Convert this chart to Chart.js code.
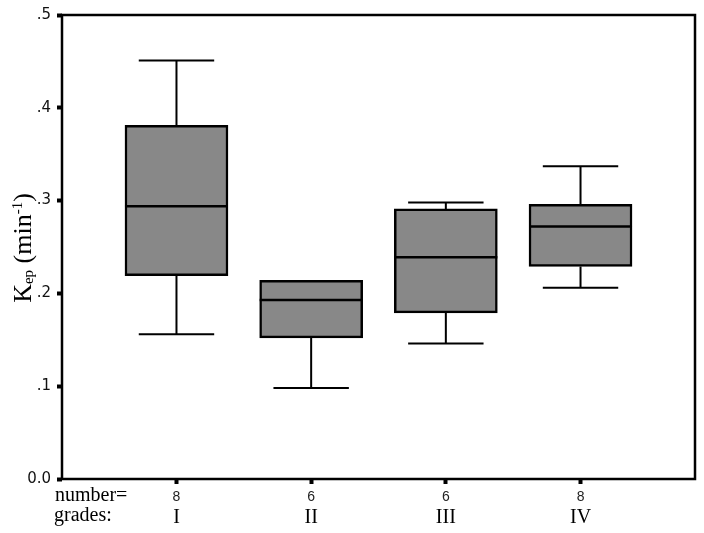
<!DOCTYPE html>
<html>
<head>
<meta charset="utf-8">
<script src="https://cdn.jsdelivr.net/npm/chart.js@4/dist/chart.umd.min.js"></script>
<style>
  html, body { margin: 0; padding: 0; background: #fff; }
  #wrap { width: 704px; height: 533px; }
</style>
</head>
<body>
<div id="wrap"><canvas id="c" width="704" height="533"></canvas></div>
<script>
// ---- data ----
const grades = ['I', 'II', 'III', 'IV'];
const counts = [8, 6, 6, 8];
const whiskerLow = [0.156, 0.098, 0.146, 0.206];
const q1 = [0.219, 0.152, 0.179, 0.229];
const median = [0.294, 0.193, 0.239, 0.272];
const q3 = [0.381, 0.214, 0.291, 0.296];
const whiskerHigh = [0.451, 0.214, 0.298, 0.337];
const yTicks = [0, 0.1, 0.2, 0.3, 0.4, 0.5];
const yTickLabels = ['0.0', '.1', '.2', '.3', '.4', '.5'];

const positions = grades.map((g, i) => i + 1);

const boxPlugin = {
  id: 'boxParts',
  beforeDatasetsDraw(chart) {
    const ctx = chart.ctx;
    const xs = chart.scales.x, ys = chart.scales.y;
    const capHalf = xs.getPixelForValue(1.28) - xs.getPixelForValue(1);
    ctx.save();
    ctx.strokeStyle = '#000';
    ctx.lineWidth = 2;
    positions.forEach((p, i) => {
      const x = xs.getPixelForValue(p);
      const yHi = ys.getPixelForValue(whiskerHigh[i]);
      const yQ3 = ys.getPixelForValue(q3[i]);
      const yQ1 = ys.getPixelForValue(q1[i]);
      const yLo = ys.getPixelForValue(whiskerLow[i]);
      ctx.beginPath();
      if (whiskerHigh[i] > q3[i]) {
        ctx.moveTo(x, yHi); ctx.lineTo(x, yQ3);
        ctx.moveTo(x - capHalf, yHi); ctx.lineTo(x + capHalf, yHi);
      }
      if (whiskerLow[i] < q1[i]) {
        ctx.moveTo(x, yQ1); ctx.lineTo(x, yLo);
        ctx.moveTo(x - capHalf, yLo); ctx.lineTo(x + capHalf, yLo);
      }
      ctx.stroke();
    });
    ctx.restore();
  },
  afterDatasetsDraw(chart) {
    const ctx = chart.ctx;
    const ys = chart.scales.y;
    const meta = chart.getDatasetMeta(0);
    ctx.save();
    ctx.strokeStyle = '#000';
    ctx.lineWidth = 2.5;
    meta.data.forEach((bar, i) => {
      const y = ys.getPixelForValue(median[i]);
      ctx.beginPath();
      ctx.moveTo(bar.x - bar.width / 2, y);
      ctx.lineTo(bar.x + bar.width / 2, y);
      ctx.stroke();
    });
    // frame
    const a = chart.chartArea;
    ctx.lineWidth = 2.5;
    ctx.strokeRect(a.left, a.top, a.right - a.left, a.bottom - a.top);
    ctx.restore();
  },
  afterDraw(chart) {
    const ctx = chart.ctx;
    const xs = chart.scales.x;
    ctx.save();
    ctx.fillStyle = '#000';
    // x labels
    ctx.textBaseline = 'alphabetic';
    ctx.textAlign = 'left';
    ctx.font = '20px "Liberation Serif", "Times New Roman", serif';
    ctx.fillText('number=', 55, 501);
    ctx.fillText('grades:', 54, 521);
    ctx.textAlign = 'center';
    positions.forEach((p, i) => {
      const x = xs.getPixelForValue(p);
      ctx.font = '14px "Liberation Sans", Arial, sans-serif';
      ctx.fillStyle = '#222';
      ctx.fillText(String(counts[i]), x, 501);
      ctx.font = '20px "Liberation Serif", "Times New Roman", serif';
      ctx.fillStyle = '#000';
      ctx.fillText(grades[i], x, 523);
    });
    // y title: K_ep (min^-1)
    const big = '26px "Liberation Serif", "Times New Roman", serif';
    const small = '15px "Liberation Serif", "Times New Roman", serif';
    const parts = [
      { t: 'K', f: big, dy: 0 },
      { t: 'ep', f: small, dy: 2 },
      { t: ' (min', f: big, dy: 0 },
      { t: '-1', f: small, dy: -9 },
      { t: ')', f: big, dy: 0 }
    ];
    let total = 0;
    parts.forEach(p => { ctx.font = p.f; p.w = ctx.measureText(p.t).width; total += p.w; });
    ctx.translate(31, 248);
    ctx.rotate(-Math.PI / 2);
    ctx.textAlign = 'left';
    let cx = -total / 2;
    parts.forEach(p => { ctx.font = p.f; ctx.fillText(p.t, cx, p.dy); cx += p.w; });
    ctx.restore();
  }
};

new Chart(document.getElementById('c'), {
  type: 'bar',
  data: {
    datasets: [{
      data: positions.map((p, i) => ({ x: p, y: [q1[i], q3[i]] })),
      backgroundColor: '#888888',
      borderColor: '#000',
      borderWidth: 2.5,
      borderSkipped: false,
      barThickness: 103
    }]
  },
  options: {
    responsive: false,
    animation: false,
    layout: { padding: { left: 0, top: 14, right: 9, bottom: 0 } },
    plugins: { legend: { display: false }, tooltip: { enabled: false } },
    scales: {
      x: {
        type: 'linear',
        offset: false,
        min: 0.15,
        max: 4.85,
        afterBuildTicks(scale) { scale.ticks = positions.map(v => ({ value: v })); },
        afterFit(scale) { scale.height = 54; },
        ticks: { callback: () => '' },
        grid: { display: true, offset: false, drawOnChartArea: false, drawTicks: true, tickLength: 5, tickWidth: 4, tickColor: '#000' },
        border: { display: false }
      },
      y: {
        min: 0,
        max: 0.5,
        afterBuildTicks(scale) { scale.ticks = yTicks.map(v => ({ value: v })); },
        afterFit(scale) { scale.width = 62; },
        ticks: {
          padding: 6,
          color: '#111',
          font: { family: '"DejaVu Sans", Verdana, sans-serif', size: 15 },
          callback: (v, i) => yTickLabels[i]
        },
        grid: { display: true, drawOnChartArea: false, drawTicks: true, tickLength: 5, tickWidth: 4, tickColor: '#000' },
        border: { display: false }
      }
    }
  },
  plugins: [boxPlugin]
});
</script>
</body>
</html>
